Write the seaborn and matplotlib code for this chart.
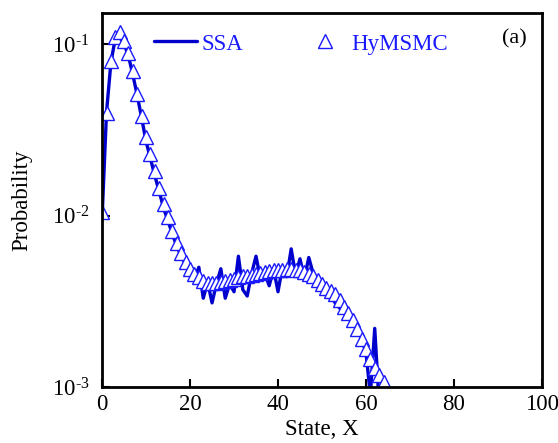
import matplotlib
matplotlib.use("Agg")
import matplotlib.pyplot as plt
import matplotlib.ticker as mticker
import seaborn as sns
import pandas as pd

# HyMSMC distribution, one value per state 0..64
hy_state = list(range(0, 65))
hy_prob = [0.0105, 0.0398, 0.0794, 0.1096, 0.1175, 0.1047, 0.0891, 0.0692, 0.0513, 0.0380,
           0.0288, 0.0229, 0.0182, 0.0145, 0.0117, 0.00977, 0.00813, 0.00692, 0.00603, 0.00537,
           0.00490, 0.00457, 0.00437, 0.00417, 0.00407, 0.00407, 0.00407, 0.00412, 0.00417, 0.00422,
           0.00427, 0.00437, 0.00442, 0.00447, 0.00452, 0.00457, 0.00462, 0.00468, 0.00473, 0.00479,
           0.00481, 0.00484, 0.00486, 0.00486, 0.00484, 0.00479, 0.00468, 0.00457, 0.00442, 0.00422,
           0.00398, 0.00380, 0.00363, 0.00347, 0.00324, 0.00295, 0.00269, 0.00245, 0.00219, 0.00191,
           0.00166, 0.00145, 0.00129, 0.00117, 0.00107]

# SSA histogram, noisy, states 0..63
ssa_state = list(range(0, 64))
ssa_prob = [0.0098, 0.040, 0.078, 0.108, 0.115, 0.100, 0.085, 0.066, 0.050, 0.037,
            0.027, 0.0215, 0.0170, 0.0138, 0.0110, 0.0093, 0.0078, 0.0066, 0.0058, 0.0052,
            0.0048, 0.0043, 0.0050, 0.0033, 0.0041, 0.0031, 0.0040, 0.0049, 0.0033, 0.0040,
            0.0036, 0.0058, 0.0037, 0.0034, 0.0046, 0.0058, 0.0043, 0.0046, 0.0039, 0.0049,
            0.0036, 0.0050, 0.0044, 0.0064, 0.0045, 0.0056, 0.0043, 0.0057, 0.0046, 0.0043,
            0.0040, 0.0035, 0.0034, 0.0031, 0.0029, 0.0027, 0.0027, 0.0024, 0.0022, 0.0019,
            0.0016, 0.0009, 0.0022, 0.0008]

y_ticks = [1e-3, 1e-2, 1e-1]
y_ticklabels = [r'$10^{\text{-}3}$', r'$10^{\text{-}2}$', r'$10^{\text{-}1}$']

df_ssa = pd.DataFrame({'State': ssa_state, 'Probability': ssa_prob})
df_hy = pd.DataFrame({'State': hy_state, 'Probability': hy_prob})

sns.set_style("ticks")
plt.rcParams['font.family'] = ['Liberation Serif', 'DejaVu Serif']
plt.rcParams['mathtext.fontset'] = 'custom'
plt.rcParams['mathtext.rm'] = 'Liberation Serif'
plt.rcParams['mathtext.it'] = 'Liberation Serif:italic'
for key in ['text.color', 'axes.labelcolor', 'xtick.color', 'ytick.color']:
    plt.rcParams[key] = 'black'

fig = plt.figure(figsize=(5.58, 4.43), dpi=100)
ax = fig.add_axes([0.183, 0.126, 0.788, 0.845])

sns.lineplot(x='State', y='Probability', data=df_ssa, ax=ax, color='#0000cc',
             linewidth=2.4, label='SSA')
sns.lineplot(x='State', y='Probability', data=df_hy, ax=ax, linestyle='none',
             marker='^', markersize=9.5, markerfacecolor='white', markeredgecolor='#1a1aff',
             markeredgewidth=1.0, color='#1a1aff', label='HyMSMC')

ax.set_yscale('log')
ax.set_xlim(0, 100)
ax.set_ylim(1e-3, 0.152)
ax.set_xticks([0, 20, 40, 60, 80, 100])
ax.yaxis.set_major_locator(mticker.FixedLocator(y_ticks))
ax.yaxis.set_major_formatter(mticker.FixedFormatter(y_ticklabels))
ax.yaxis.set_minor_locator(mticker.NullLocator())
ax.tick_params(direction='in', length=6, width=1.5, labelsize=16.5, colors='black')
ax.tick_params(axis='y', pad=9)
ax.tick_params(axis='x', pad=5)
for s in ax.spines.values():
    s.set_linewidth(2)
    s.set_color('black')

ax.set_xlabel('State, X', fontsize=16.5, labelpad=3)
ax.set_ylabel('Probability', fontsize=16.5, labelpad=14)

leg = ax.legend(loc='upper left', bbox_to_anchor=(0.07, 1.0), ncol=2, frameon=False,
                fontsize=16.5, handlelength=1.9, columnspacing=2.6, handletextpad=0.2)
for t in leg.get_texts():
    t.set_color('#1a1aff')

ax.text(0.965, 0.955, '(a)', transform=ax.transAxes, ha='right', va='top', fontsize=16)

fig.savefig('out.png', dpi=100)
